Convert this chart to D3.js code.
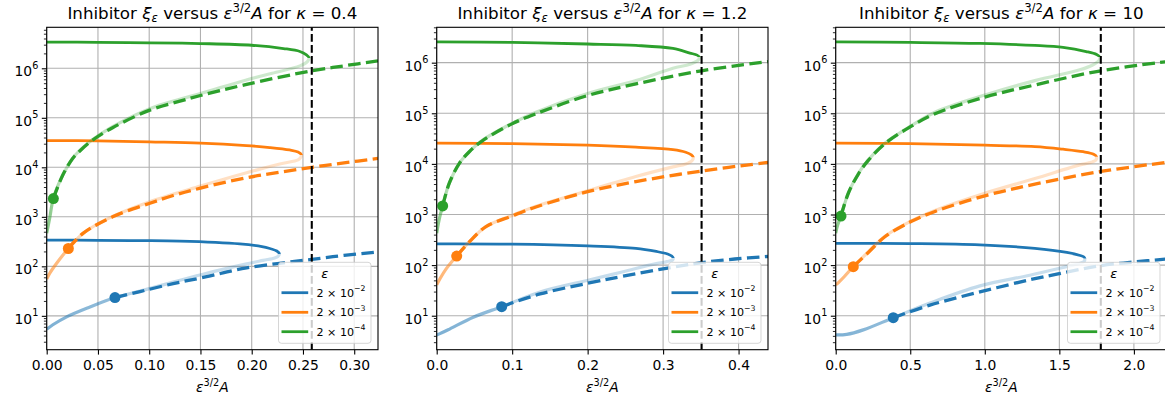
<!DOCTYPE html>
<html><head><meta charset="utf-8">
<script src="https://cdn.jsdelivr.net/npm/d3@7"></script>
<style>
body{margin:0;background:#fff;}
svg{display:block;font-family:"DejaVu Sans",sans-serif;}
text{white-space:pre;}
</style>
</head><body>
<svg id="c" width="1165" height="401"></svg>
<script>
// ---------------- data ----------------
const kappaLabels = ["0.4", "1.2", "10"];
const epsExponents = ["\u22122", "\u22123", "\u22124"];
const xLines = [0.2586, 0.351, 1.778];
const xMaxes = [0.3232, 0.439, 2.222];
const yLimits = [[2.07, 6.73e6], [2.13, 5.0e6], [2.13, 5.0e6]];
const xTicks = [[0, 0.05, 0.10, 0.15, 0.20, 0.25, 0.30], [0, 0.1, 0.2, 0.3, 0.4], [0, 0.5, 1.0, 1.5, 2.0]];
const xTickDecimals = [2, 1, 1];
const yTickExponents = [1, 2, 3, 4, 5, 6];

// S-curves: upper branch from x=0 out to the fold, then lower branch back to x=0
const k04_blue_S = [[0,339],[0.05,335],[0.091,331],[0.13,324],[0.1884,285],[0.21,251],[0.2177,229],[0.2245,204],[0.227,178],
  [0.2255,158],[0.2225,148],[0.2111,132],[0.195,112],[0.156,72.4],[0.1234,47.9],[0.091,31.6],[0.0666,23.4],[0.0422,15.1],[0.0195,9.55],[0.006,6.61],[0,5.37]];
const k04_orange_S = [[0,3.47e4],[0.05,3.43e4],[0.1,3.27e4],[0.15,3.09e4],[0.195,2.75e4],[0.2177,2.51e4],[0.237,2.24e4],[0.2452,2.04e4],[0.2485,1.78e4],
  [0.2475,1.55e4],[0.2452,1.41e4],[0.2274,1.17e4],[0.195,7760],[0.15,4170],[0.1,2000],[0.0643,1020],[0.0357,468],[0.0211,229],[0.0097,115],[0.003,72.4],[0,55.0]];
const k04_green_S = [[0,3.39e6],[0.05,3.35e6],[0.1,3.27e6],[0.15,3.16e6],[0.2,2.92e6],[0.231,2.51e6],[0.247,2.19e6],[0.2534,1.86e6],[0.256,1.62e6],
  [0.2545,1.38e6],[0.247,1.12e6],[0.22,7.94e5],[0.194,5.75e5],[0.15,3.09e5],[0.129,2.34e5],[0.1,1.51e5],[0.0643,6.61e4],[0.0448,3.63e4],[0.0318,2.14e4],[0.0253,1.51e4],[0.0156,6920],[0.0065,2340],[0.003,955],[0,468]];
const k04_blue_dash = [[0.0666,23.4],[0.091,30.9],[0.1234,44.7],[0.156,61.7],[0.195,93],[0.2586,138],[0.29,166],[0.3232,195]];
const k04_orange_dash = [[0.0211,229],[0.0357,468],[0.0643,1000],[0.1,1860],[0.1234,2690],[0.15,3800],[0.195,6170],[0.227,7940],[0.2586,1.0e4],[0.29,1.23e4],[0.3232,1.51e4]];
const k04_green_dash = [[0.0065,2340],[0.0156,6920],[0.0253,1.51e4],[0.0318,2.09e4],[0.0448,3.55e4],[0.0643,6.31e4],[0.1,1.41e5],[0.129,2.14e5],[0.15,2.82e5],[0.194,4.68e5],[0.2586,8.91e5],[0.29,1.12e6],[0.3232,1.41e6]];
const k04_dots = [[0.0666,23.4],[0.0211,229],[0.0065,2340]];

const k12_blue_S = [[0,263],[0.1,260],[0.2,240],[0.264,214],[0.291,186],[0.306,166],[0.3115,151],[0.3134,138],
  [0.3125,126],[0.305,117],[0.291,107],[0.247,74.1],[0.203,51.3],[0.137,29.5],[0.0861,15.1],[0.0485,9.33],[0.0176,5.50],[0.005,4.47],[0,4.17]];
const k12_orange_S = [[0,2.57e4],[0.1,2.51e4],[0.2,2.34e4],[0.264,2.14e4],[0.313,1.91e4],[0.33,1.70e4],[0.3375,1.51e4],[0.340,1.35e4],
  [0.3385,1.17e4],[0.33,1.0e4],[0.313,8710],[0.264,5620],[0.2,2950],[0.1315,1450],[0.0997,955],[0.0653,575],[0.0432,288],[0.0265,151],[0.0123,83.2],[0.004,52.5],[0,40.7]];
const k12_green_S = [[0,2.57e6],[0.1,2.51e6],[0.2,2.34e6],[0.264,2.19e6],[0.313,1.91e6],[0.3355,1.55e6],[0.345,1.41e6],[0.348,1.29e6],
  [0.3465,1.12e6],[0.3355,9.33e5],[0.313,7.76e5],[0.264,4.42e5],[0.2,2.45e5],[0.1315,1.05e5],[0.0997,6.31e4],[0.0609,2.95e4],[0.0432,1.74e4],[0.030,1.02e4],[0.0167,4170],[0.0079,1480],[0.003,759],[0,427]];
const k12_blue_dash = [[0.0861,15.1],[0.137,26.9],[0.2,43.7],[0.247,60.3],[0.313,91.2],[0.351,112],[0.395,132],[0.439,148]];
const k12_orange_dash = [[0.0265,151],[0.0432,288],[0.0653,575],[0.0997,933],[0.1315,1410],[0.2,2820],[0.264,4470],[0.351,7240],[0.439,1.07e4]];
const k12_green_dash = [[0.0079,1480],[0.0167,4170],[0.030,1.02e4],[0.0432,1.74e4],[0.0609,2.88e4],[0.0997,6.17e4],[0.1315,9.77e4],[0.2,2.24e5],[0.264,3.80e5],[0.351,6.92e5],[0.439,1.05e6]];
const k12_dots = [[0.0861,15.1],[0.0265,151],[0.0079,1480]];

const k10_blue_S = [[0,269],[0.5,266],[0.967,251],[1.336,214],[1.55,178],[1.64,155],[1.665,145],[1.671,135],
  [1.665,117],[1.62,105],[1.548,93.3],[1.302,63.1],[0.967,38.9],[0.632,17.8],[0.386,9.12],[0.185,5.25],[0.074,4.27],[0,4.17]];
const k10_orange_S = [[0,2.57e4],[0.5,2.51e4],[1.0,2.34e4],[1.336,2.19e4],[1.525,1.95e4],[1.66,1.74e4],[1.73,1.55e4],[1.749,1.38e4],
  [1.745,1.20e4],[1.70,1.05e4],[1.637,9550],[1.336,5130],[1.0,2630],[0.666,1200],[0.505,741],[0.33,372],[0.2186,182],[0.118,93.3],[0.06,60.3],[0.02,45.7],[0,40.7]];
const k10_green_S = [[0,2.57e6],[0.5,2.51e6],[0.967,2.40e6],[1.336,2.19e6],[1.525,2.0e6],[1.68,1.66e6],[1.75,1.45e6],[1.771,1.29e6],
  [1.765,1.10e6],[1.72,8.91e5],[1.637,7.24e5],[1.336,4.42e5],[1.0,2.29e5],[0.666,1.05e5],[0.505,5.62e4],[0.33,2.57e4],[0.2186,1.20e4],[0.152,6460],[0.0846,2630],[0.0355,933],[0.012,603],[0,427]];
const k10_blue_dash = [[0.386,9.12],[0.632,16.2],[0.967,29.5],[1.302,51.3],[1.548,72.4],[1.778,97.7],[2.0,115],[2.222,132]];
const k10_orange_dash = [[0.118,93.3],[0.2186,178],[0.33,363],[0.505,724],[0.666,1150],[1.0,2340],[1.336,3980],[1.778,7080],[2.222,1.07e4]];
const k10_green_dash = [[0.0355,933],[0.0846,2630],[0.152,6310],[0.2186,1.17e4],[0.33,2.51e4],[0.505,5.50e4],[0.666,9.77e4],[1.0,2.09e5],[1.336,3.63e5],[1.778,6.92e5],[2.222,1.05e6]];
const k10_dots = [[0.386,9.12],[0.118,93.3],[0.0355,933]];

// ---------------- drawing ----------------
const panels = [
  {S: [k04_blue_S, k04_orange_S, k04_green_S], dash: [k04_blue_dash, k04_orange_dash, k04_green_dash], dots: k04_dots},
  {S: [k12_blue_S, k12_orange_S, k12_green_S], dash: [k12_blue_dash, k12_orange_dash, k12_green_dash], dots: k12_dots},
  {S: [k10_blue_S, k10_orange_S, k10_green_S], dash: [k10_blue_dash, k10_orange_dash, k10_green_dash], dots: k10_dots}
];
const colors = ["#1f77b4", "#ff7f0e", "#2ca02c"];
const LEFT = [46.7, 436.7, 835.7], W = 331.3, TOP = 27.3, H = 322.4;
const FS = 13.9;

const svg = d3.select("#c");
const defs = svg.append("defs");

panels.forEach((p, i) => {
  const x0 = LEFT[i];
  const x = d3.scaleLinear().domain([0, xMaxes[i]]).range([x0, x0 + W]);
  const y = d3.scaleLog().domain(yLimits[i]).range([TOP + H, TOP]);
  const g = svg.append("g");

  defs.append("clipPath").attr("id", "clip" + i).append("rect")
    .attr("x", x0).attr("y", TOP).attr("width", W).attr("height", H);

  // grid
  const grid = g.append("g").attr("stroke", "#b0b0b0").attr("stroke-width", 1.1);
  xTicks[i].forEach(t => grid.append("line").attr("x1", x(t)).attr("x2", x(t)).attr("y1", TOP).attr("y2", TOP + H));
  yTickExponents.forEach(e => grid.append("line").attr("x1", x0).attr("x2", x0 + W).attr("y1", y(Math.pow(10, e))).attr("y2", y(Math.pow(10, e))));

  const data = g.append("g").attr("clip-path", `url(#clip${i})`);
  const line = d3.line().x(d => x(d[0])).y(d => y(d[1])).curve(d3.curveCatmullRom.alpha(0.5));

  [0, 1, 2].forEach(s => {
    const S = p.S[s];
    const fold = S.reduce((a, b) => (b[0] > a[0] ? b : a));
    const fy = y(fold[1]);
    const dotX = p.dots[s][0];
    const gid = `grad${i}_${s}`;
    const grad = defs.append("linearGradient").attr("id", gid).attr("gradientUnits", "userSpaceOnUse")
      .attr("x1", x(0)).attr("x2", x(fold[0])).attr("y1", 0).attr("y2", 0);
    const r = dotX / fold[0];
    [[0, 0.58], [r, 0.48], [Math.min(1, r + 0.03), 0.3], [1, 0.22]].forEach(st =>
      grad.append("stop").attr("offset", st[0]).attr("stop-color", colors[s]).attr("stop-opacity", st[1]));

    const cu = `cu${i}_${s}`, cl = `cl${i}_${s}`;
    defs.append("clipPath").attr("id", cu).append("rect").attr("x", x0 - 5).attr("y", TOP - 5).attr("width", W + 10).attr("height", fy - TOP + 5);
    defs.append("clipPath").attr("id", cl).append("rect").attr("x", x0 - 5).attr("y", fy).attr("width", W + 10).attr("height", TOP + H - fy + 5);

    data.append("g").attr("clip-path", `url(#${cl})`).append("path").attr("d", line(S))
      .attr("fill", "none").attr("stroke", `url(#${gid})`).attr("stroke-width", 3.2).attr("stroke-linecap", "butt");
    data.append("g").attr("clip-path", `url(#${cu})`).append("path").attr("d", line(S))
      .attr("fill", "none").attr("stroke", colors[s]).attr("stroke-width", 2.78);
    data.append("path").attr("d", line(p.dash[s])).attr("fill", "none").attr("stroke", colors[s])
      .attr("stroke-width", 3.3).attr("stroke-dasharray", "12.5,5.4");
    data.append("circle").attr("cx", x(p.dots[s][0])).attr("cy", y(p.dots[s][1])).attr("r", 5.5).attr("fill", colors[s]);
  });

  // vertical black dashed line
  data.append("line").attr("x1", x(xLines[i])).attr("x2", x(xLines[i])).attr("y1", TOP + H).attr("y2", TOP)
    .attr("stroke", "#000").attr("stroke-width", 2.08).attr("stroke-dasharray", "7.7,3.3");

  // axes
  const xa = g.append("g").attr("transform", `translate(0,${TOP + H})`)
    .call(d3.axisBottom(x).tickValues(xTicks[i]).tickFormat(d3.format(`.${xTickDecimals[i]}f`)).tickSize(4.9).tickSizeOuter(0).tickPadding(5.5));
  xa.select(".domain").remove();
  xa.selectAll("line").attr("stroke", "#000").attr("stroke-width", 1.1);
  xa.selectAll("text").attr("font-size", FS).attr("font-family", "DejaVu Sans").attr("fill", "#000");

  const minor = [];
  for (let e = 0; e <= 6; e++) for (let m = 2; m <= 9; m++) {
    const v = m * Math.pow(10, e);
    if (v >= yLimits[i][0] && v <= yLimits[i][1]) minor.push(v);
  }
  const ym = g.append("g").attr("transform", `translate(${x0},0)`)
    .call(d3.axisLeft(y).tickValues(minor).tickFormat("").tickSize(2.8).tickSizeOuter(0));
  ym.select(".domain").remove();
  ym.selectAll("line").attr("stroke", "#000").attr("stroke-width", 0.83);

  const ya = g.append("g").attr("transform", `translate(${x0},0)`)
    .call(d3.axisLeft(y).tickValues(yTickExponents.map(e => Math.pow(10, e))).tickFormat("").tickSize(4.9).tickSizeOuter(0).tickPadding(3.5));
  ya.select(".domain").remove();
  ya.selectAll("line").attr("stroke", "#000").attr("stroke-width", 1.1);
  ya.selectAll(".tick text").each(function(d, k) {
    const t = d3.select(this).attr("dy", null).attr("y", 7.6).attr("x", -8.4)
      .attr("font-size", FS).attr("font-family", "DejaVu Sans").attr("fill", "#000").attr("text-anchor", "end");
    t.append("tspan").text("10");
    t.append("tspan").attr("font-size", 9.7).attr("dy", -7.6).text(String(yTickExponents[k]));
  });

  // frame
  g.append("rect").attr("x", x0).attr("y", TOP).attr("width", W).attr("height", H)
    .attr("fill", "none").attr("stroke", "#000").attr("stroke-width", 1.1);

  // title
  const cx = x0 + W / 2;
  const tt = g.append("text").attr("x", cx).attr("y", 18.5).attr("text-anchor", "middle").attr("font-size", 16.7).attr("fill", "#000");
  tt.append("tspan").text("Inhibitor ");
  tt.append("tspan").attr("font-style", "italic").text("\u03BE");
  tt.append("tspan").attr("font-style", "italic").attr("font-size", 11.7).attr("dy", 3.6).text("\u03B5");
  tt.append("tspan").attr("dy", -3.6).text(" versus ");
  tt.append("tspan").attr("font-style", "italic").text("\u03B5");
  tt.append("tspan").attr("font-size", 11.7).attr("dy", -7).text("3/2");
  tt.append("tspan").attr("font-style", "italic").attr("dy", 7).text("A");
  tt.append("tspan").text(" for ");
  tt.append("tspan").attr("font-style", "italic").text("\u03BA");
  tt.append("tspan").text(" = " + kappaLabels[i]);

  // x label
  const xl = g.append("text").attr("x", cx).attr("y", 391.5).attr("text-anchor", "middle").attr("font-size", FS).attr("fill", "#000");
  xl.append("tspan").attr("font-style", "italic").text("\u03B5");
  xl.append("tspan").attr("font-size", 9.7).attr("dy", -6).text("3/2");
  xl.append("tspan").attr("font-style", "italic").attr("dy", 6).text("A");

  // legend
  const LW = 92.5, LH = 81;
  const lg = g.append("g").attr("transform", `translate(${x0 + W - 7 - LW},262.3)`);
  lg.append("rect").attr("width", LW).attr("height", LH).attr("rx", 3)
    .attr("fill", "#fff").attr("fill-opacity", 0.8).attr("stroke", "#ccc").attr("stroke-opacity", 0.8).attr("stroke-width", 1);
  lg.append("text").attr("x", LW / 2).attr("y", 15.3).attr("text-anchor", "middle").attr("font-size", 13).attr("font-style", "italic").attr("fill", "#000").text("\u03B5");
  [30.4, 50, 69.4].forEach((ly, s) => {
    lg.append("line").attr("x1", 3).attr("x2", 29.7).attr("y1", ly).attr("y2", ly).attr("stroke", colors[s]).attr("stroke-width", 2.78);
    const lt = lg.append("text").attr("x", 38).attr("y", ly + 4).attr("font-size", 11.1).attr("fill", "#000");
    lt.append("tspan").text("2 \u00D7 10");
    lt.append("tspan").attr("font-size", 7.8).attr("dy", -5.5).text(epsExponents[s]);
  });
});
</script>
</body></html>
